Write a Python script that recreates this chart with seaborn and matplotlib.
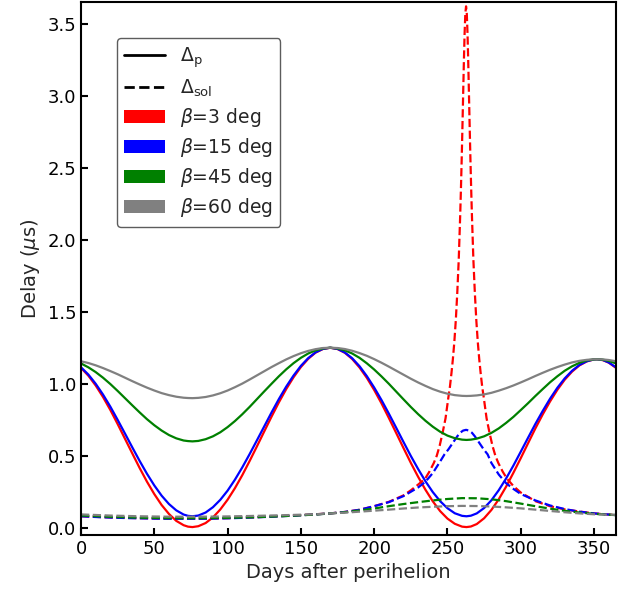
import numpy as np
import pandas as pd
import matplotlib
matplotlib.use('Agg')
import matplotlib.pyplot as plt
from matplotlib.lines import Line2D
from matplotlib.patches import Patch
import seaborn as sns

# ------------------------------------------------------------------
# values
# ------------------------------------------------------------------
days_p = [0, 5, 10, 15, 20, 25, 30, 35, 40, 45, 50, 55, 60, 65, 70, 73, 76,
          80, 85, 90, 95, 100, 105, 110, 115, 120, 125, 130, 135, 140, 145, 150, 155,
          160, 165, 170, 175, 180, 185, 190, 195, 200, 205, 210, 215, 220, 225, 230,
          235, 240, 245, 250, 255, 260, 263, 266, 270, 275, 280, 285, 290, 295, 300,
          305, 310, 315, 320, 325, 330, 335, 340, 345, 350, 352, 356, 360, 365]

dp_b3 = [1.110, 1.056, 0.988, 0.908, 0.818, 0.720, 0.618, 0.516, 0.415, 0.320, 0.234,
         0.158, 0.096, 0.048, 0.018, 0.008, 0.005,
         0.011, 0.033, 0.072, 0.127, 0.195, 0.275, 0.365, 0.463, 0.565, 0.669, 0.772,
         0.871, 0.963, 1.045, 1.116, 1.173, 1.216, 1.241, 1.250,
         1.241, 1.215, 1.172, 1.113, 1.041, 0.957, 0.864, 0.763, 0.659, 0.554, 0.451,
         0.354, 0.264, 0.184, 0.116, 0.064, 0.028, 0.008, 0.005,
         0.009, 0.026, 0.066, 0.124, 0.198, 0.285, 0.382, 0.483, 0.587, 0.690, 0.787,
         0.877, 0.958, 1.028, 1.084, 1.127, 1.155, 1.169, 1.170,
         1.164, 1.147, 1.110]
dp_b15 = [1.114, 1.064, 1.000, 0.925, 0.841, 0.749, 0.654, 0.558, 0.464, 0.375, 0.294,
          0.223, 0.165, 0.121, 0.092, 0.083, 0.080,
          0.085, 0.106, 0.143, 0.194, 0.258, 0.334, 0.419, 0.511, 0.607, 0.704, 0.801,
          0.894, 0.980, 1.057, 1.124, 1.178, 1.218, 1.242, 1.250,
          1.242, 1.217, 1.177, 1.122, 1.053, 0.974, 0.887, 0.793, 0.695, 0.596, 0.499,
          0.408, 0.323, 0.248, 0.185, 0.136, 0.101, 0.083, 0.080,
          0.084, 0.100, 0.137, 0.191, 0.261, 0.342, 0.432, 0.528, 0.625, 0.721, 0.811,
          0.896, 0.972, 1.037, 1.090, 1.130, 1.156, 1.169, 1.170,
          1.165, 1.148, 1.114]
dp_b45 = [1.141, 1.114, 1.081, 1.042, 0.998, 0.950, 0.900, 0.850, 0.801, 0.754, 0.712,
          0.675, 0.644, 0.621, 0.606, 0.602, 0.600,
          0.603, 0.615, 0.635, 0.663, 0.699, 0.741, 0.788, 0.839, 0.893, 0.947, 1.000,
          1.052, 1.100, 1.143, 1.180, 1.210, 1.232, 1.245, 1.250,
          1.245, 1.232, 1.210, 1.180, 1.142, 1.099, 1.051, 1.000, 0.946, 0.892, 0.839,
          0.789, 0.743, 0.702, 0.667, 0.640, 0.622, 0.612, 0.610,
          0.612, 0.619, 0.635, 0.659, 0.690, 0.728, 0.770, 0.817, 0.865, 0.915, 0.963,
          1.010, 1.052, 1.090, 1.121, 1.145, 1.162, 1.169, 1.170,
          1.167, 1.159, 1.141]
dp_b60 = [1.156, 1.144, 1.128, 1.109, 1.088, 1.066, 1.042, 1.018, 0.995, 0.973, 0.953,
          0.935, 0.921, 0.910, 0.903, 0.901, 0.900,
          0.902, 0.908, 0.919, 0.934, 0.953, 0.976, 1.001, 1.029, 1.058, 1.087, 1.116,
          1.143, 1.169, 1.192, 1.212, 1.228, 1.240, 1.248, 1.250,
          1.248, 1.241, 1.229, 1.213, 1.194, 1.171, 1.146, 1.119, 1.091, 1.063, 1.035,
          1.009, 0.985, 0.963, 0.945, 0.931, 0.921, 0.916, 0.915,
          0.916, 0.919, 0.926, 0.937, 0.952, 0.969, 0.988, 1.009, 1.031, 1.054, 1.076,
          1.097, 1.116, 1.133, 1.148, 1.159, 1.166, 1.170, 1.170,
          1.169, 1.165, 1.156]

days_sol_b3 = [0, 10, 20, 30, 40, 50, 60, 70, 80, 90, 100, 110, 120, 130, 140, 150, 160,
               170, 180, 190, 200, 210, 220, 225, 230, 234.7, 237.7, 240.7, 242.7, 244.7,
               246.7, 248.7, 250.7, 251.7, 252.7, 253.7, 254.7, 255.7, 256.7, 257.7,
               258.7, 259.2, 259.7, 260.2, 260.7, 261.2, 261.7, 262.2, 262.7, 263.2,
               263.7, 264.2, 264.7, 265.2, 265.7, 266.2, 266.7, 267.7, 268.7, 269.7,
               270.7, 271.7, 272.7, 273.7, 274.7, 276.7, 278.7, 280.7, 282.7, 284.7,
               287.7, 290.7, 295, 300, 310, 320, 330, 340, 350, 365]
dsol_b3 = [0.080, 0.076, 0.072, 0.069, 0.067, 0.065, 0.064, 0.064, 0.064, 0.065, 0.067,
           0.070, 0.074, 0.078, 0.083, 0.088, 0.094, 0.100, 0.110, 0.125, 0.150, 0.180,
           0.225, 0.260, 0.300, 0.340, 0.390, 0.450, 0.500, 0.570, 0.660, 0.760, 0.910,
           0.980, 1.070, 1.170, 1.290, 1.440, 1.630, 1.860, 2.170, 2.350, 2.550, 2.770,
           3.000, 3.230, 3.430, 3.570, 3.620, 3.570, 3.430, 3.230, 3.000, 2.770, 2.550,
           2.350, 2.170, 1.860, 1.630, 1.440, 1.290, 1.170, 1.070, 0.980, 0.910, 0.760,
           0.660, 0.570, 0.500, 0.450, 0.390, 0.340, 0.290, 0.245, 0.185, 0.150, 0.128,
           0.113, 0.100, 0.088]

days_sol_b15 = [0, 10, 20, 30, 40, 50, 60, 70, 80, 90, 100, 110, 120, 130, 140, 150, 160,
                170, 180, 190, 200, 210, 220, 225, 230, 235, 240, 245, 248, 250.7, 252.7,
                254.7, 256.7, 258.7, 260.7, 262.7, 264.7, 266.7, 268.7, 270.7, 272.7,
                274.7, 277.4, 280, 285, 290, 295, 300, 310, 320, 330, 340, 350, 365]
dsol_b15 = [0.080, 0.075, 0.071, 0.068, 0.066, 0.064, 0.063, 0.063, 0.063, 0.064, 0.066,
            0.069, 0.073, 0.077, 0.082, 0.087, 0.093, 0.100, 0.110, 0.125, 0.150, 0.178,
            0.220, 0.250, 0.280, 0.320, 0.380, 0.460, 0.510, 0.545, 0.575, 0.605, 0.635,
            0.660, 0.675, 0.680, 0.675, 0.660, 0.635, 0.605, 0.575, 0.545, 0.510, 0.450,
            0.370, 0.310, 0.270, 0.235, 0.190, 0.155, 0.130, 0.112, 0.100, 0.088]

days_sol = [0, 20, 40, 60, 80, 100, 120, 140, 160, 170, 180, 190, 200, 210, 220, 230,
            240, 250, 260, 270, 280, 290, 300, 310, 320, 330, 340, 350, 365]
dsol_b45 = [0.085, 0.076, 0.070, 0.067, 0.067, 0.069, 0.074, 0.082, 0.092, 0.100, 0.108,
            0.120, 0.134, 0.150, 0.165, 0.178, 0.190, 0.200, 0.206, 0.205, 0.198, 0.185,
            0.168, 0.150, 0.133, 0.118, 0.106, 0.097, 0.088]
dsol_b60 = [0.093, 0.085, 0.080, 0.077, 0.077, 0.079, 0.083, 0.088, 0.094, 0.100, 0.105,
            0.112, 0.119, 0.126, 0.134, 0.141, 0.146, 0.150, 0.152, 0.151, 0.148, 0.142,
            0.135, 0.126, 0.117, 0.108, 0.100, 0.094, 0.090]

betas = [3, 15, 45, 60]
colors = ['red', 'blue', 'green', 'gray']

series = [
    (days_p, dp_b3, days_sol_b3, dsol_b3),
    (days_p, dp_b15, days_sol_b15, dsol_b15),
    (days_p, dp_b45, days_sol, dsol_b45),
    (days_p, dp_b60, days_sol, dsol_b60),
]

# ------------------------------------------------------------------
sns.set_style('ticks')
plt.rcParams['font.family'] = ['DejaVu Sans']
plt.rcParams['axes.linewidth'] = 1.5
plt.rcParams['mathtext.default'] = 'it'

fig, ax = plt.subplots(figsize=(6.39, 5.93), dpi=100)
fig.subplots_adjust(left=0.1268, right=0.964, top=0.9966, bottom=0.0978)

for (dx, dy, sx, sy), col in zip(series, colors):
    sns.lineplot(x=dx, y=dy, color=col, lw=1.6, ax=ax, sort=False)
    sns.lineplot(x=sx, y=sy, color=col, lw=1.6, ls='--', ax=ax, sort=False)

ax.set_xlim(0, 365)
ax.set_ylim(-0.05, 3.65)
ax.set_yticks([0.0, 0.5, 1.0, 1.5, 2.0, 2.5, 3.0, 3.5])
ax.set_xticks([0, 50, 100, 150, 200, 250, 300, 350])
ax.tick_params(direction='in', labelsize=13, width=1.5, length=5, colors='black')
for sp in ax.spines.values():
    sp.set_visible(True)
    sp.set_color('black')

ax.set_xlabel('Days after perihelion', fontsize=14)
ax.set_ylabel(r'Delay ($\mu$s)', fontsize=14)

handles = [Line2D([], [], color='black', lw=2, ls='-'),
           Line2D([], [], color='black', lw=2, ls='--')]
labels = [r'$\Delta_\mathrm{p}$', r'$\Delta_\mathrm{sol}$']
for b, col in zip(betas, colors):
    handles.append(Patch(facecolor=col, edgecolor='none'))
    labels.append(r'$\beta$=%d deg' % b)

leg = ax.legend(handles, labels, loc='upper left', bbox_to_anchor=(0.067, 0.932),
                borderaxespad=0, fontsize=13.5, frameon=True, fancybox=True,
                labelspacing=0.38, handlelength=2.15, edgecolor='#333333')
leg.get_frame().set_linewidth(1.0)

fig.savefig('out.png', dpi=100)
